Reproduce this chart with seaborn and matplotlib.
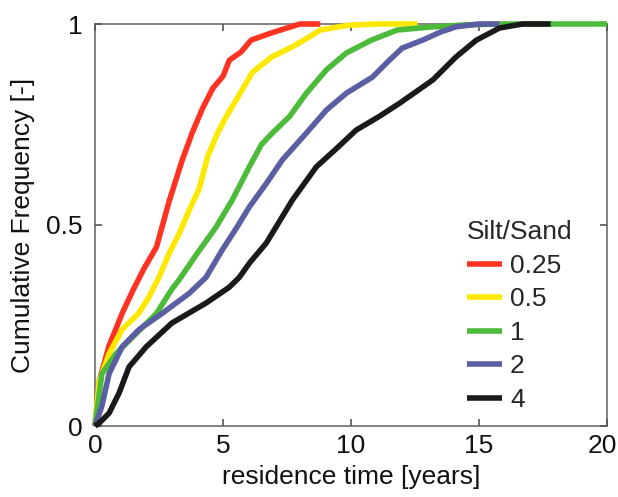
import numpy as np
import pandas as pd
import matplotlib
matplotlib.use("Agg")
import matplotlib.pyplot as plt
import matplotlib.transforms as mtransforms
import seaborn as sns

# ---- data ----
labels = ["0.25", "0.5", "1", "2", "4"]
colors = ["#FF3322", "#FFE800", "#4CBB3A", "#5A5EA2", "#1A1A1A"]

t_025 = [0, 0.16, 0.55, 1.06, 1.5, 1.9, 2.4, 2.9, 3.4, 3.8, 4.2, 4.6, 5.0, 5.25, 5.7, 6.1, 6.9, 7.5, 8.0, 8.8]
f_025 = [0, 0.11, 0.20, 0.28, 0.34, 0.39, 0.445, 0.56, 0.66, 0.73, 0.79, 0.84, 0.87, 0.91, 0.93, 0.96, 0.978, 0.99, 1.0, 1.0]

t_05 = [0, 0.16, 0.55, 1.06, 1.7, 2.1, 2.5, 2.9, 3.3, 3.7, 4.07, 4.4, 4.8, 5.13, 5.6, 6.15, 6.9, 7.7, 8.3, 8.8, 9.9, 11.0, 12.6]
f_05 = [0, 0.11, 0.18, 0.24, 0.28, 0.32, 0.37, 0.43, 0.48, 0.54, 0.59, 0.67, 0.73, 0.77, 0.82, 0.88, 0.918, 0.943, 0.965, 0.985, 0.997, 1.0, 1.0]

t_1 = [0, 0.27, 0.82, 1.45, 2.4, 3.0, 3.3, 4.0, 4.73, 5.36, 6.03, 6.5, 6.93, 7.6, 8.26, 9.04, 9.82, 10.8, 11.8, 13.2, 14.5, 16.0, 20.0]
f_1 = [0, 0.13, 0.18, 0.22, 0.28, 0.34, 0.365, 0.43, 0.495, 0.562, 0.645, 0.70, 0.729, 0.77, 0.828, 0.886, 0.928, 0.96, 0.985, 0.993, 0.998, 1.0, 1.0]

t_2 = [0, 0.27, 0.55, 1.06, 1.72, 2.62, 3.68, 4.34, 4.97, 5.55, 6.03, 6.7, 7.32, 8.26, 9.04, 9.82, 10.84, 11.5, 12.0, 12.8, 13.5, 14.1, 15.0, 15.8]
f_2 = [0, 0.05, 0.13, 0.197, 0.24, 0.28, 0.33, 0.37, 0.438, 0.495, 0.545, 0.604, 0.662, 0.729, 0.786, 0.828, 0.868, 0.91, 0.94, 0.96, 0.98, 0.993, 1.0, 1.0]

t_4 = [0, 0.16, 0.55, 0.94, 1.33, 2.0, 3.0, 4.34, 5.24, 5.64, 6.03, 6.69, 7.71, 8.65, 9.43, 10.2, 11.1, 11.9, 13.2, 14.1, 14.9, 15.8, 16.7, 17.8]
f_4 = [0, 0.007, 0.032, 0.082, 0.147, 0.197, 0.256, 0.306, 0.345, 0.37, 0.405, 0.455, 0.562, 0.645, 0.69, 0.736, 0.77, 0.803, 0.861, 0.918, 0.96, 0.99, 1.0, 1.0]

series_t = [t_025, t_05, t_1, t_2, t_4]
series_f = [f_025, f_05, f_1, f_2, f_4]

x_ticks = [0, 5, 10, 15, 20]
y_ticks = [0, 0.5, 1]
y_ticklabels = ["0", "0.5", "1"]

rows = []
for lab, ts, fs in zip(labels, series_t, series_f):
    for i, (t, f) in enumerate(zip(ts, fs)):
        rows.append({"time": t, "freq": f, "Silt/Sand": lab, "order": i})
df = pd.DataFrame(rows)

sns.set_theme(style="white")
plt.rcParams["font.family"] = ["Liberation Sans", "DejaVu Sans"]

fig = plt.figure(figsize=(6.18, 4.97), dpi=100)
ax = fig.add_axes([95 / 618, 71 / 497, 512 / 618, 402 / 497])

sns.lineplot(data=df, x="time", y="freq", hue="Silt/Sand", hue_order=labels,
             palette=colors, linewidth=4.0, sort=False, estimator=None,
             units="Silt/Sand", ax=ax, legend=True)
for ln in ax.lines:
    ln.set_clip_on(False)
    ln.set_solid_capstyle("butt")
    ln.set_solid_joinstyle("round")

ax.set_xlim(0, 20)
ax.set_ylim(0, 1)
ax.set_xticks(x_ticks)
ax.set_xticklabels([str(v) for v in x_ticks])
ax.set_yticks(y_ticks)
ax.set_yticklabels(y_ticklabels)

for sp in ax.spines.values():
    sp.set_color("#777777")
    sp.set_linewidth(1.3)
    sp.set_zorder(0.5)

ax.tick_params(axis="both", which="both", direction="in", length=5, width=1.2,
               color="#555555", labelsize=19, labelcolor="#111111",
               top=True, right=True, bottom=True, left=True)
ax.tick_params(axis="x", pad=6)
ax.tick_params(axis="y", pad=9)

# nudge the last x tick label so it stays inside the figure
last = ax.get_xticklabels()[-1]
last.set_transform(last.get_transform() +
                   mtransforms.ScaledTranslation(-5 / 100, 0, fig.dpi_scale_trans))

ax.set_xlabel("residence time [years]", fontsize=19, color="#111111", labelpad=5)
ax.set_ylabel("Cumulative Frequency [-]", fontsize=19, color="#111111", labelpad=8)

leg = ax.legend(title="Silt/Sand", loc="lower left",
                bbox_to_anchor=((467 - 95) / 512, 0.035),
                frameon=False, fontsize=19, title_fontsize=19, handlelength=1.33,
                handletextpad=0.3, labelspacing=0.36, alignment="left",
                borderaxespad=0.0, borderpad=0.0)
for h in leg.get_lines():
    h.set_linewidth(4.0)
    h.set_solid_capstyle("butt")

fig.savefig("out.png", dpi=100)
